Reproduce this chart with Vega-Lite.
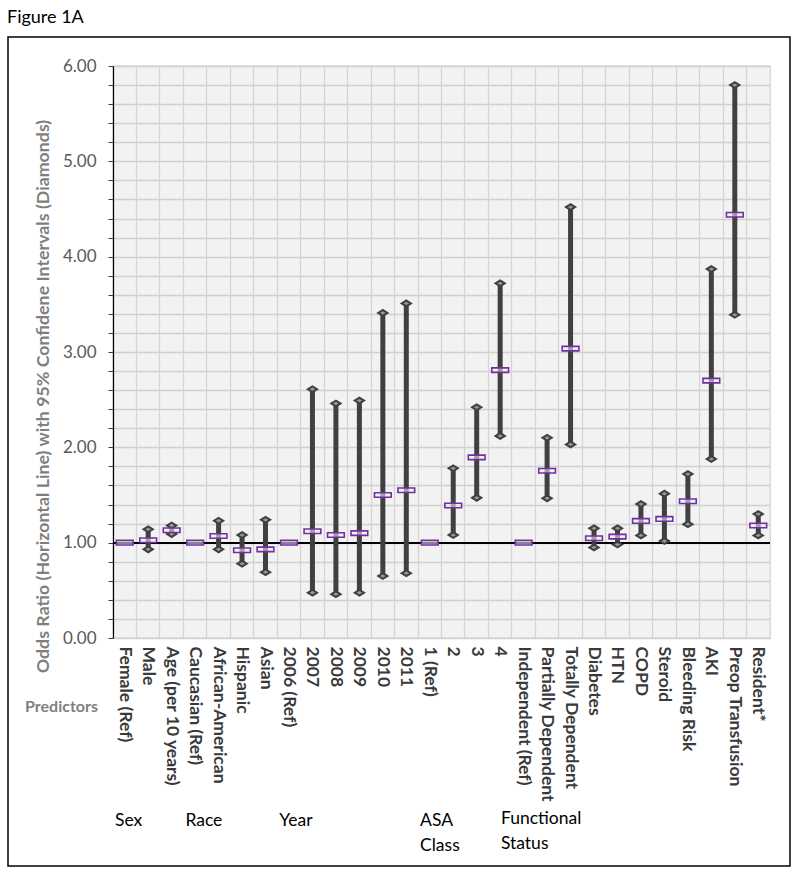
{
  "$schema": "https://vega.github.io/schema/vega-lite/v6.json",
  "autosize": {"type": "none"},
  "width": 657,
  "height": 572,
  "padding": {"left": 113, "top": 66, "right": 30, "bottom": 237},
  "background": "white",
  "title": {"text": "Figure 1A", "anchor": "start", "frame": "group", "dx": -106, "offset": 9, "fontSize": 18, "font": "Lato", "fontWeight": "normal", "color": "#000000"},
  "config": {
    "view": {"fill": "#f2f2f2", "stroke": "#d4d4d4", "strokeWidth": 1.3},
    "font": "Lato"
  },
  "datasets": {
    "or": [
      {"cat": "Female (Ref)", "or": 1.0, "lo": null, "hi": null},
      {"cat": "Male", "or": 1.025, "lo": 0.93, "hi": 1.14},
      {"cat": "Age (per 10 years)", "or": 1.13, "lo": 1.09, "hi": 1.18},
      {"cat": "Caucasian (Ref)", "or": 1.0, "lo": null, "hi": null},
      {"cat": "African-American", "or": 1.07, "lo": 0.93, "hi": 1.23},
      {"cat": "Hispanic", "or": 0.92, "lo": 0.78, "hi": 1.08},
      {"cat": "Asian", "or": 0.93, "lo": 0.69, "hi": 1.24},
      {"cat": "2006 (Ref)", "or": 1.0, "lo": null, "hi": null},
      {"cat": "2007", "or": 1.12, "lo": 0.475, "hi": 2.61},
      {"cat": "2008", "or": 1.08, "lo": 0.46, "hi": 2.46},
      {"cat": "2009", "or": 1.10, "lo": 0.475, "hi": 2.49},
      {"cat": "2010", "or": 1.50, "lo": 0.65, "hi": 3.41},
      {"cat": "2011", "or": 1.55, "lo": 0.68, "hi": 3.51},
      {"cat": "1 (Ref)", "or": 1.0, "lo": null, "hi": null},
      {"cat": "2", "or": 1.39, "lo": 1.08, "hi": 1.78},
      {"cat": "3", "or": 1.895, "lo": 1.47, "hi": 2.42},
      {"cat": "4", "or": 2.81, "lo": 2.12, "hi": 3.72},
      {"cat": "Independent (Ref)", "or": 1.0, "lo": null, "hi": null},
      {"cat": "Partially Dependent", "or": 1.755, "lo": 1.465, "hi": 2.10},
      {"cat": "Totally Dependent", "or": 3.035, "lo": 2.03, "hi": 4.52},
      {"cat": "Diabetes", "or": 1.046, "lo": 0.95, "hi": 1.15},
      {"cat": "HTN", "or": 1.063, "lo": 0.98, "hi": 1.15},
      {"cat": "COPD", "or": 1.228, "lo": 1.076, "hi": 1.405},
      {"cat": "Steroid", "or": 1.249, "lo": 1.017, "hi": 1.514},
      {"cat": "Bleeding Risk", "or": 1.434, "lo": 1.194, "hi": 1.72},
      {"cat": "AKI", "or": 2.70, "lo": 1.877, "hi": 3.87},
      {"cat": "Preop Transfusion", "or": 4.44, "lo": 3.39, "hi": 5.80},
      {"cat": "Resident*", "or": 1.18, "lo": 1.076, "hi": 1.30}
    ],
    "groups": [
      {"cat": "Female (Ref)", "label": "Sex"},
      {"cat": "Caucasian (Ref)", "label": "Race"},
      {"cat": "2006 (Ref)", "label": "Year"},
      {"cat": "1 (Ref)", "label": "ASA\nClass"}
    ],
    "groups2": [
      {"cat": "Independent (Ref)", "label": "Functional\nStatus"}
    ]
  },
  "data": {"name": "or"},
  "encoding": {
    "x": {
      "field": "cat", "type": "nominal", "sort": null,
      "scale": {
        "paddingInner": 0, "paddingOuter": 0,
        "domain": ["Female (Ref)", "Male", "Age (per 10 years)", "Caucasian (Ref)", "African-American", "Hispanic", "Asian", "2006 (Ref)", "2007", "2008", "2009", "2010", "2011", "1 (Ref)", "2", "3", "4", "Independent (Ref)", "Partially Dependent", "Totally Dependent", "Diabetes", "HTN", "COPD", "Steroid", "Bleeding Risk", "AKI", "Preop Transfusion", "Resident*"]
      },
      "axis": {
        "title": "Predictors", "titleX": -52, "titleY": 68, "titleAlign": "center", "titleBaseline": "middle",
        "titleAngle": 0, "titleColor": "#7f7f7f", "titleFontSize": 16, "titleFontWeight": "bold", "titleFont": "Lato",
        "labelAngle": 90, "labelAlign": "left", "labelBaseline": "middle", "labelFont": "Lato", "labelFontWeight": "bold",
        "labelFontSize": 17.5, "labelColor": "#3a3a3a", "labelPadding": 8, "labelLimit": 300, "labelOverlap": false,
        "ticks": false, "domain": false, "grid": true, "bandPosition": 0, "gridColor": "#d4d4d4", "gridWidth": 1.3
      }
    }
  },
  "layer": [
    {
      "mark": {"type": "rule", "color": "#000000", "strokeWidth": 1.5},
      "encoding": {
        "y": {
          "datum": 1, "type": "quantitative",
          "scale": {"domain": [0, 6], "nice": false, "zero": true},
          "axis": {
            "values": [0, 0.2, 0.4, 0.6, 0.8, 1, 1.2, 1.4, 1.6, 1.8, 2, 2.2, 2.4, 2.6, 2.8, 3, 3.2, 3.4, 3.6, 3.8, 4, 4.2, 4.4, 4.6, 4.8, 5, 5.2, 5.4, 5.6, 5.8, 6],
            "tickCount": 40,
            "labelExpr": "abs(datum.value - round(datum.value)) < 0.001 ? format(datum.value, '.2f') : ''",
            "labelOverlap": false,
            "labelFont": "Lato", "labelFontSize": 17, "labelColor": "#595959", "labelPadding": 12,
            "tickSize": 5, "tickColor": "#404040", "domainColor": "#000000", "domainWidth": 1.2,
            "grid": true, "gridColor": "#d0d0d0", "gridWidth": 1.4,
            "title": "Odds Ratio (Horizontal Line) with 95% Confidene Intervals (Diamonds)",
            "titleX": -70, "titleY": 330, "titleAngle": -90, "titleAlign": "center", "titleBaseline": "middle",
            "titleFont": "Lato", "titleFontSize": 17.8, "titleFontWeight": "bold", "titleColor": "#7f7f7f"
          }
        },
        "x": {"value": 0},
        "x2": {"value": 657}
      }
    },
    {
      "transform": [{"filter": "isValid(datum.lo)"}],
      "mark": {"type": "rule", "color": "#404040", "strokeWidth": 5},
      "encoding": {
        "y": {"field": "lo", "type": "quantitative"},
        "y2": {"field": "hi"}
      }
    },
    {
      "transform": [{"filter": "isValid(datum.lo)"}, {"fold": ["lo", "hi"], "as": ["end", "val"]}],
      "mark": {"type": "point", "shape": "M-1,0L0,-0.62L1,0L0,0.62Z", "size": 170, "filled": true, "color": "#404040", "opacity": 1},
      "encoding": {
        "y": {"field": "val", "type": "quantitative"}
      }
    },
    {
      "transform": [{"filter": "isValid(datum.lo)"}, {"fold": ["lo", "hi"], "as": ["end", "val"]}],
      "mark": {"type": "point", "shape": "M-1,0L0,-0.6L1,0L0,0.6Z", "size": 30, "filled": true, "color": "#9a9a9a", "opacity": 1, "dy": -1},
      "encoding": {
        "y": {"field": "val", "type": "quantitative"}
      }
    },
    {
      "mark": {"type": "point", "shape": "M-1,-0.27H1V0.27H-1Z", "size": 280, "filled": false, "stroke": "#7030a0", "strokeWidth": 1.6, "fill": "#f4f0f8", "fillOpacity": 0.55, "opacity": 1},
      "encoding": {
        "y": {"field": "or", "type": "quantitative"}
      }
    },
    {
      "data": {"name": "groups"},
      "mark": {"type": "text", "align": "left", "baseline": "top", "dx": 2, "dy": 174, "font": "Lato", "fontSize": 17.5, "color": "#000000", "lineBreak": "\n", "lineHeight": 25},
      "encoding": {
        "x": {"field": "cat", "type": "nominal", "bandPosition": 0},
        "y": {"datum": 0, "type": "quantitative"},
        "text": {"field": "label"}
      }
    },
    {
      "data": {"name": "groups2"},
      "mark": {"type": "text", "align": "left", "baseline": "top", "dx": -11, "dy": 172, "font": "Lato", "fontSize": 17.5, "color": "#000000", "lineBreak": "\n", "lineHeight": 25},
      "encoding": {
        "x": {"field": "cat", "type": "nominal", "bandPosition": 0},
        "y": {"datum": 0, "type": "quantitative"},
        "text": {"field": "label"}
      }
    },
    {
      "data": {"values": [{}]},
      "mark": {"type": "rect", "fill": null, "stroke": "#000000", "strokeWidth": 1.5},
      "encoding": {
        "x": {"value": -105},
        "x2": {"value": 677},
        "y": {"value": -29},
        "y2": {"value": 800}
      }
    }
  ]
}
